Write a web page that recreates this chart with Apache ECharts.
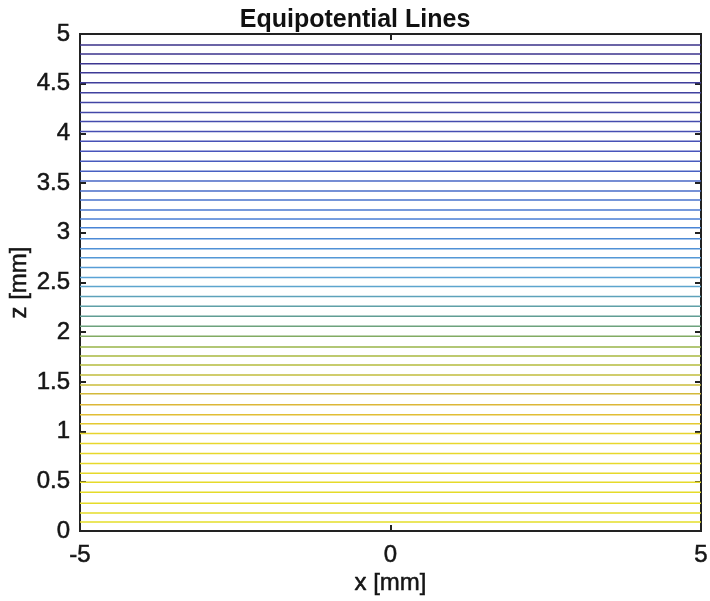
<!DOCTYPE html>
<html>
<head>
<meta charset="utf-8">
<script src="https://cdn.jsdelivr.net/npm/echarts@6/dist/echarts.min.js"></script>
<style>
  html, body { margin: 0; padding: 0; background: #fff; }
  #container { width: 710px; height: 601px; }
</style>
</head>
<body>
<div id="container"></div>
<script>
// contour levels, z in mm, bottom to top
var levelZ = [0.09, 0.18, 0.28, 0.39, 0.49, 0.58, 0.68, 0.78, 0.88, 0.98,
  1.08, 1.17, 1.27, 1.38, 1.47, 1.57, 1.67, 1.76, 1.85, 1.96,
  2.06, 2.16, 2.26, 2.36, 2.46, 2.55, 2.65, 2.75, 2.84, 2.94,
  3.05, 3.14, 3.23, 3.33, 3.42, 3.52, 3.62, 3.72, 3.82, 3.92,
  4.02, 4.12, 4.21, 4.31, 4.41, 4.51, 4.61, 4.70, 4.80, 4.89];
var xRange = [-5, 5];
var zRange = [0, 5];

// colour ramp, yellow at the bottom to dark blue at the top
var ramp = [
  [0.00, [228, 222, 40]],
  [0.18, [232, 214, 44]],
  [0.24, [222, 182, 56]],
  [0.30, [196, 190, 60]],
  [0.36, [160, 184, 64]],
  [0.42, [96, 156, 140]],
  [0.50, [92, 166, 214]],
  [0.62, [72, 130, 214]],
  [0.78, [72, 84, 186]],
  [1.00, [58, 48, 136]]
];
function rampColor(t) {
  for (var i = 1; i < ramp.length; i++) {
    if (t <= ramp[i][0]) {
      var a = ramp[i - 1], b = ramp[i];
      var f = (t - a[0]) / (b[0] - a[0]);
      var c = a[1].map(function (v, k) { return Math.round(v + (b[1][k] - v) * f); });
      return 'rgb(' + c.join(',') + ')';
    }
  }
  return 'rgb(' + ramp[ramp.length - 1][1].join(',') + ')';
}

var font = 'Liberation Sans, Arial, Helvetica, sans-serif';
var txt = { fontFamily: font, fontSize: 24, color: '#151515', textBorderColor: '#151515', textBorderWidth: 0.5 };

var series = levelZ.map(function (z, i) {
  return {
    type: 'line',
    data: [[xRange[0], z], [xRange[1], z]],
    symbol: 'none',
    silent: true,
    xAxisIndex: 0,
    yAxisIndex: 0,
    lineStyle: { width: 1.5, color: rampColor(i / (levelZ.length - 1)) }
  };
});

var tickStyle = { show: true, inside: true, length: 6, lineStyle: { color: '#222', width: 2 } };
var noLine = { show: false, onZero: false };

var option = new Object();
option.animation = false;
option.backgroundColor = '#fff';
option.title = {
  text: 'Equipotential Lines', left: 'center', top: 3,
  textStyle: { fontFamily: font, fontSize: 25, fontWeight: 'bold', color: '#111' }
};
option.grid = {
  left: 80, right: 9, top: 34, bottom: 70, containLabel: false, outerBoundsMode: 'none',
  show: true, borderColor: '#222', borderWidth: 2, backgroundColor: '#fff'
};
option.xAxis = [{
  type: 'value', min: xRange[0], max: xRange[1], interval: 5, position: 'bottom',
  name: 'x [mm]', nameLocation: 'middle', nameGap: 40, nameMoveOverlap: false,
  nameTextStyle: txt,
  axisLine: noLine, axisTick: tickStyle, splitLine: { show: false },
  axisLabel: Object.assign({ margin: 12 }, txt)
}, {
  type: 'value', min: xRange[0], max: xRange[1], interval: 5, position: 'top',
  axisLine: noLine, axisTick: tickStyle, splitLine: { show: false },
  axisLabel: { show: false }
}];
option.yAxis = [{
  type: 'value', min: zRange[0], max: zRange[1], interval: 0.5, position: 'left',
  name: 'z [mm]', nameLocation: 'middle', nameGap: 49, nameRotate: 90, nameMoveOverlap: false,
  nameTextStyle: txt,
  axisLine: noLine, axisTick: tickStyle, splitLine: { show: false },
  axisLabel: Object.assign({ margin: 10 }, txt)
}, {
  type: 'value', min: zRange[0], max: zRange[1], interval: 0.5, position: 'right',
  axisLine: noLine, axisTick: tickStyle, splitLine: { show: false },
  axisLabel: { show: false }
}];
option.series = series;

echarts.init(document.getElementById('container')).setOption(option);
</script>
</body>
</html>
